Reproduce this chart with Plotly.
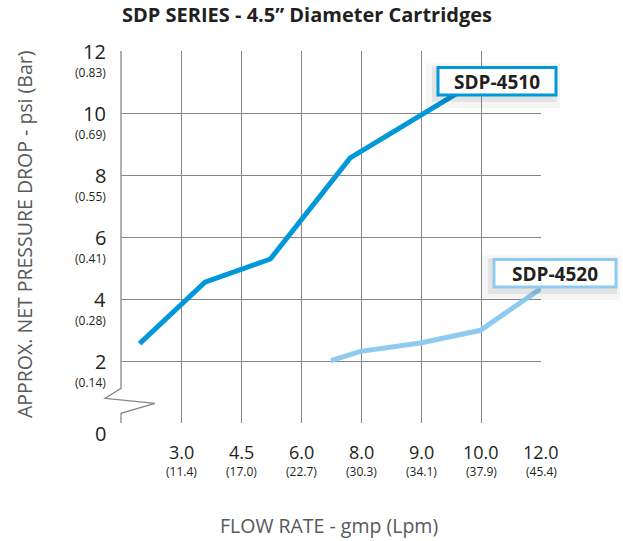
import plotly.graph_objects as go

# ---------------- data ----------------
flow_gpm = ["3.0", "4.5", "6.0", "8.0", "9.0", "10.0", "12.0"]
flow_lpm = ["(11.4)", "(17.0)", "(22.7)", "(30.3)", "(34.1)", "(37.9)", "(45.4)"]
flow_pos = [1, 2, 3, 4, 5, 6, 7]

psi_vals = [0, 2, 4, 6, 8, 10, 12]
psi_text = ["0", "2", "4", "6", "8", "10", "12"]
bar_text = ["", "(0.14)", "(0.28)", "(0.41)", "(0.55)", "(0.69)", "(0.83)"]

sdp4510_x = [0.31, 1.40, 2.49, 3.82, 6.0]
sdp4510_y = [2.56, 4.54, 5.29, 8.55, 11.1]

sdp4520_x = [3.50, 3.99, 4.99, 5.99, 7.0]
sdp4520_y = [2.01, 2.31, 2.58, 2.99, 4.34]

# ---------------- layout geometry ----------------
W, H = 623, 541
ML, MR, MT, MB = 121, 82, 51, 118
PW, PH = W - ML - MR, H - MT - MB
FONT = "Open Sans"
C4510 = "#0098d8"
C4520 = "#8ecbef"
GRID = "#878787"


def px(xp):
    return (xp - ML) / PW


def py(yp):
    return (H - MB - yp) / PH


fig = go.Figure()
fig.add_trace(go.Scatter(x=sdp4510_x, y=sdp4510_y, mode="lines",
                         line=dict(color=C4510, width=5), name="SDP-4510",
                         showlegend=False))
fig.add_trace(go.Scatter(x=sdp4520_x, y=sdp4520_y, mode="lines",
                         line=dict(color=C4520, width=5), name="SDP-4520",
                         showlegend=False))

shapes = []
# broken left axis line
pts = [(ML, MT), (ML, 388.3), (105, 398.3), (155, 403.3), (ML, 413.3), (ML, H - MB)]
path = "M " + " L ".join(f"{px(a):.5f},{py(b):.5f}" for a, b in pts)
shapes.append(dict(type="path", path=path, xref="paper", yref="paper",
                   line=dict(color=GRID, width=1.3), layer="above"))


def label_box(x0, y0, x1, y1, color):
    # soft shadow
    shapes.append(dict(type="rect", xref="paper", yref="paper",
                       x0=px(x0 - 12), x1=px(x1 + 4), y0=py(y0 - 4), y1=py(y1 + 13),
                       fillcolor="rgba(0,0,0,0.04)", line=dict(width=0), layer="above"))
    shapes.append(dict(type="rect", xref="paper", yref="paper",
                       x0=px(x0 - 6), x1=px(x1 + 1), y0=py(y0 - 1), y1=py(y1 + 7),
                       fillcolor="rgba(0,0,0,0.07)", line=dict(width=0), layer="above"))
    shapes.append(dict(type="rect", xref="paper", yref="paper",
                       x0=px(x0), x1=px(x1), y0=py(y0), y1=py(y1),
                       fillcolor="white", line=dict(color=color, width=3), layer="above"))


label_box(438, 67.5, 556, 95, C4510)
label_box(494, 259.5, 616, 287, C4520)

ann = []
ann.append(dict(text="<b>SDP-4510</b>", x=px(497), y=py(81.5), xref="paper", yref="paper",
                showarrow=False, font=dict(family=FONT, size=19, color="#231f20"),
                xanchor="center", yanchor="middle"))
ann.append(dict(text="<b>SDP-4520</b>", x=px(555), y=py(273.5), xref="paper", yref="paper",
                showarrow=False, font=dict(family=FONT, size=19, color="#231f20"),
                xanchor="center", yanchor="middle"))

# y tick labels
for v, t, b in zip(psi_vals, psi_text, bar_text):
    ann.append(dict(text=t, x=px(107), y=v, xref="paper", yref="y", showarrow=False,
                    xanchor="right", yanchor="middle", yshift=(-10 if v == 0 else 0),
                    borderpad=0,
                    font=dict(family=FONT, size=20, color="#231f20")))
    if b:
        ann.append(dict(text=b, x=px(107), y=v, xref="paper", yref="y", showarrow=False,
                        xanchor="right", yanchor="middle", yshift=-21, borderpad=0,
                        font=dict(family=FONT, size=12, color="#231f20")))

# x tick labels
for p, g, l in zip(flow_pos, flow_gpm, flow_lpm):
    ann.append(dict(text=g, x=p, y=0, xref="x", yref="paper", showarrow=False,
                    xanchor="center", yanchor="middle", yshift=-28.5, borderpad=0,
                    font=dict(family=FONT, size=18, color="#231f20")))
    ann.append(dict(text=l, x=p, y=0, xref="x", yref="paper", showarrow=False,
                    xanchor="center", yanchor="middle", yshift=-48.5, borderpad=0,
                    font=dict(family=FONT, size=12, color="#231f20")))

# axis titles
ann.append(dict(text="APPROX. NET PRESSURE DROP - psi (Bar)", x=px(24), y=py(234),
                xref="paper", yref="paper", showarrow=False, textangle=-90,
                xanchor="center", yanchor="middle",
                font=dict(family=FONT, size=19.5, color="#58595b")))
ann.append(dict(text="FLOW RATE - gmp (Lpm)", x=px(329), y=py(525),
                xref="paper", yref="paper", showarrow=False,
                xanchor="center", yanchor="middle",
                font=dict(family=FONT, size=19.5, color="#58595b")))

fig.update_layout(
    width=W, height=H,
    margin=dict(l=ML, r=MR, t=MT, b=MB),
    paper_bgcolor="white", plot_bgcolor="white",
    title=dict(text="<b>SDP SERIES - 4.5\u201d Diameter Cartridges</b>",
               x=307 / W, xanchor="center", y=1 - 15 / H, yanchor="middle",
               font=dict(family=FONT, size=20, color="#231f20")),
    xaxis=dict(range=[0, 7], tickvals=flow_pos, showticklabels=False, ticks="",
               showgrid=True, gridcolor=GRID, gridwidth=1.3, zeroline=False,
               showline=False, fixedrange=True),
    yaxis=dict(range=[0, 12], tickvals=psi_vals, showticklabels=False, ticks="",
               showgrid=True, gridcolor=GRID, gridwidth=1.3, zeroline=False,
               showline=False, fixedrange=True),
    shapes=shapes, annotations=ann,
)

fig.write_html("out.html", config={"displayModeBar": False},
               post_script="document.body.style.margin='0';document.body.style.overflow='hidden';")
